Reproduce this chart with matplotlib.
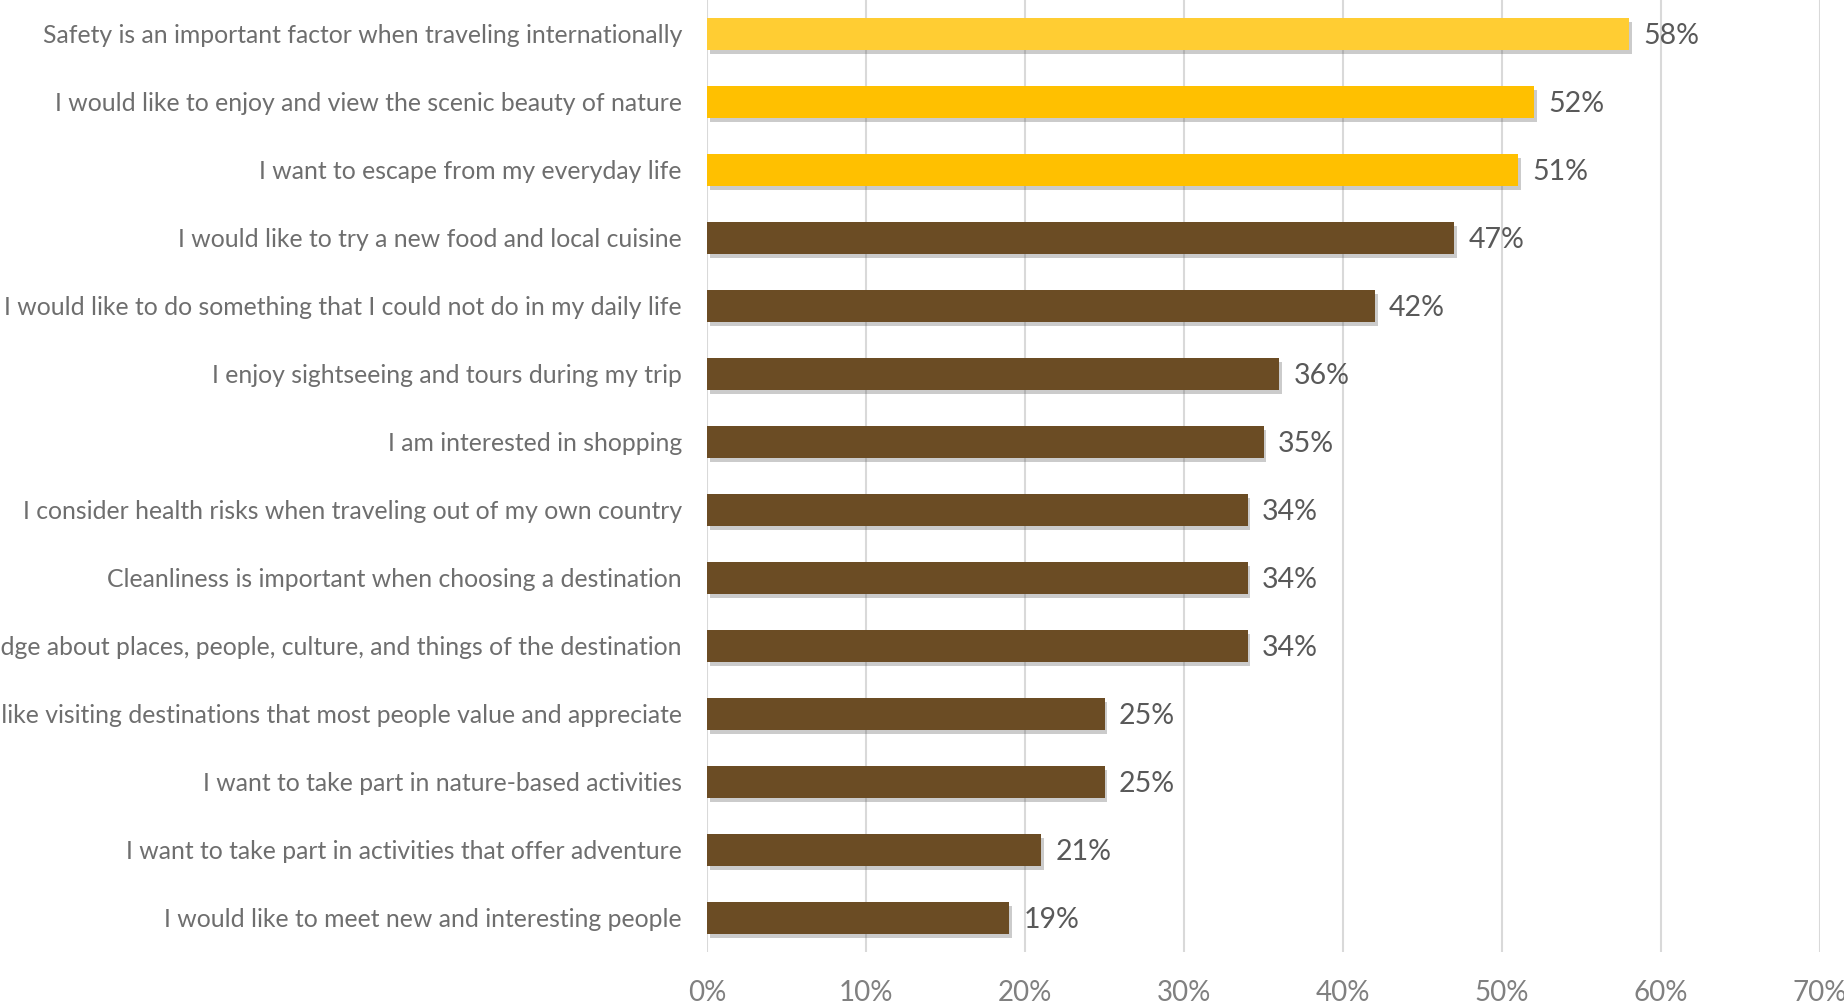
import matplotlib.pyplot as plt
import matplotlib.patheffects as pe
from matplotlib.ticker import FuncFormatter

plt.rcParams['font.family'] = ['Lato', 'DejaVu Sans']

reasons = [
    'Safety is an important factor when traveling internationally',
    'I would like to enjoy and view the scenic beauty of nature',
    'I want to escape from my everyday life',
    'I would like to try a new food and local cuisine',
    'I would like to do something that I could not do in my daily life',
    'I enjoy sightseeing and tours during my trip',
    'I am interested in shopping',
    'I consider health risks when traveling out of my own country',
    'Cleanliness is important when choosing a destination',
    'I want to gain knowledge about places, people, culture, and things of the destination',
    'I like visiting destinations that most people value and appreciate',
    'I want to take part in nature-based activities',
    'I want to take part in activities that offer adventure',
    'I would like to meet new and interesting people',
]
share = [0.58, 0.52, 0.51, 0.47, 0.42, 0.36, 0.35, 0.34, 0.34, 0.34, 0.25, 0.25, 0.21, 0.19]

# top answer lighter gold, next two gold, the rest brown
colors = ['#FFCD33', '#FFC000', '#FFC000'] + ['#6B4C24'] * (len(share) - 3)

fig = plt.figure(figsize=(18.44, 10.08), dpi=100)
ax = fig.add_axes([0.3834, 0.0556, 0.6036, 0.9444])

ypos = list(range(len(share)))
bars = ax.barh(ypos, share, height=0.47, color=colors, zorder=3)
for b in bars:
    b.set_path_effects([pe.SimplePatchShadow(offset=(2, -3), alpha=0.3, shadow_rgbFace='#555555'),
                        pe.Normal()])

for y, v in zip(ypos, share):
    ax.text(v + 0.009, y + 0.03, f'{v:.0%}', va='center', ha='left',
            fontsize=20.5, color='#595959')

ax.set_xlim(0, 0.70)
ax.set_ylim(len(share) - 0.5, -0.5)
ax.set_xticks([i / 10 for i in range(8)])
ax.xaxis.set_major_formatter(FuncFormatter(lambda x, _: f'{x:.0%}'))
ax.set_yticks(ypos)
ax.set_yticklabels(reasons)

ax.grid(axis='x', color='#D9D9D9', linewidth=1.5, zorder=0)
for s in ax.spines.values():
    s.set_visible(False)
ax.tick_params(axis='x', length=0, pad=20, labelsize=20, labelcolor='#808080')
ax.tick_params(axis='y', length=0, pad=18, labelsize=17.8, labelcolor='#6E6E6E')

fig.savefig('out.png', dpi=100)
